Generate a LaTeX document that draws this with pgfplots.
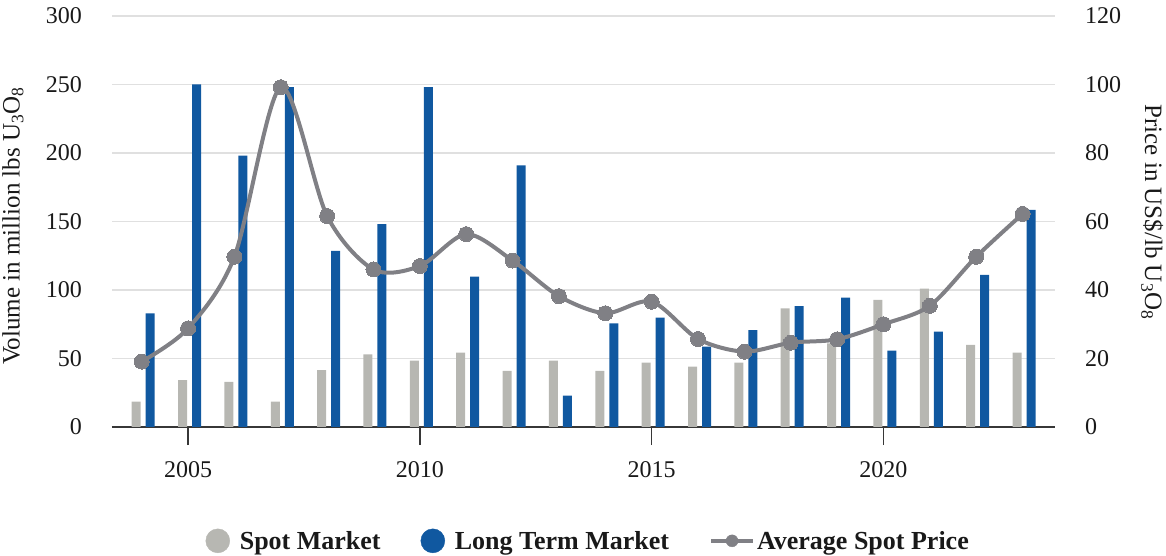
\documentclass[border=0pt]{standalone}
\usepackage{pgfplots}
\pgfplotsset{compat=1.18}
\usepackage{pgfplotstable}
\usepackage{fontspec}
\setmainfont{Liberation Serif}
\definecolor{spotc}{RGB}{183,183,178}
\definecolor{ltmc}{RGB}{16,88,160}
\definecolor{pricec}{RGB}{128,128,133}
\definecolor{gridc}{RGB}{224,224,224}
\definecolor{axisc}{RGB}{55,55,55}
\definecolor{textc}{RGB}{25,25,25}

\pgfplotstableread{
year spot long price
2004 18.5 83 19.1
2005 34.3 250 28.8
2006 33 198 49.7
2007 18.5 248 99.2
2008 41.6 128.5 61.6
2009 53 148 46
2010 48.4 248 47
2011 54.2 109.7 56.3
2012 41 191 48.6
2013 48.4 22.9 38.2
2014 41 75.7 33.2
2015 47 79.8 36.6
2016 44 58.6 25.7
2017 47 70.8 22
2018 86.6 88.3 24.6
2019 61 94.4 25.6
2020 92.7 55.7 30
2021 101 69.6 35.4
2022 59.9 111 49.7
2023 54.2 158.4 62.2
}\data

\begin{document}
\begin{tikzpicture}[font=\fontsize{24}{28}\selectfont, text=textc]
\begin{axis}[
  at={(0,0)}, anchor=south west, scale only axis,
  width=943pt, height=411pt,
  xmin=2003.36, xmax=2023.7, ymin=0, ymax=300,
  axis x line*=bottom, axis y line*=left,
  y axis line style={draw=none},
  x axis line style={draw=axisc, line width=1.6pt, -},
  xtick={2005,2010,2015,2020},
  xtick align=outside,
  major tick length=18pt,
  x tick style={draw=axisc, line width=1.6pt},
  ytick={0,50,...,300},
  y tick style={draw=none},
  ymajorgrids, grid style={gridc, line width=1.6pt},
  xticklabel style={anchor=center, yshift=-25pt, inner sep=0pt},
  yticklabel style={anchor=east, inner sep=0pt, xshift=-30pt},
  /pgf/number format/assume math mode=true,
  /pgf/number format/1000 sep={},
  ylabel={Volume in million lbs U\textsubscript{3}O\textsubscript{8}},
  every axis y label/.style={at={(axis description cs:-0.105,0.489)}, rotate=90, anchor=center, font=\fontsize{25}{28}\selectfont},
  ybar, bar width=9pt,
]
\addplot[fill=spotc, draw=none, bar shift=-5.5pt] table[x=year,y=spot]{\data};
\addplot[fill=ltmc, draw=none, bar shift=8.5pt] table[x=year,y=long]{\data};
\end{axis}
\begin{axis}[
  at={(0,0)}, anchor=south west, scale only axis,
  width=943pt, height=411pt,
  xmin=2003.36, xmax=2023.7, ymin=0, ymax=120,
  axis x line=none, axis y line*=right,
  y axis line style={draw=none},
  ytick={0,20,...,120},
  y tick style={draw=none},
  yticklabel style={anchor=west, inner sep=0pt, xshift=30pt},
  /pgf/number format/assume math mode=true,
  ylabel={Price in US\$/lb U\textsubscript{3}O\textsubscript{8}},
  every axis y label/.style={at={(axis description cs:1.103,0.523)}, rotate=-90, anchor=center, font=\fontsize{25}{28}\selectfont},
  legend style={at={(0.505,-0.277)}, anchor=center, draw=none, fill=none,
    font=\fontsize{26}{28}\selectfont\bfseries, text=textc,
    /tikz/every even column/.append style={column sep=38pt},
    /tikz/every odd column/.append style={column sep=0pt}},
  legend columns=3,
]
\addlegendimage{legend image code/.code={\path[draw=none,fill=none] (0pt,0pt) -- (32pt,0pt); \fill[spotc] (12pt,0pt) circle (12pt);}}
\addlegendentry{Spot Market}
\addlegendimage{legend image code/.code={\path[draw=none,fill=none] (0pt,0pt) -- (32pt,0pt); \fill[ltmc] (12pt,0pt) circle (12pt);}}
\addlegendentry{Long Term Market}
\addlegendimage{legend image code/.code={\draw[pricec, line width=4pt] (0pt,0pt) -- (42pt,0pt); \fill[pricec] (21pt,0pt) circle (6pt);}}
\addlegendentry{Average Spot Price}
\addplot[pricec, line width=4pt, smooth, tension=0.5, mark=*, mark size=7.5pt, mark options={fill=pricec, draw=pricec, line width=0pt}] table[x=year,y=price]{\data};
\end{axis}
\pgfresetboundingbox
\path[use as bounding box] (-112pt,-129pt) rectangle (1054pt,427pt);
\end{tikzpicture}
\end{document}
